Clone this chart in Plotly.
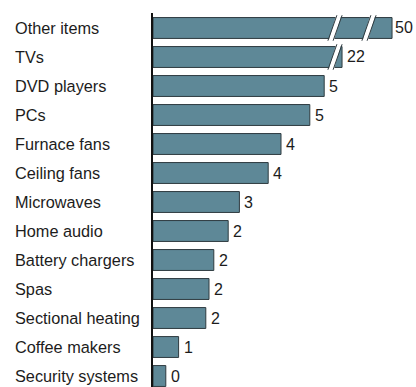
import plotly.graph_objects as go

# Annual standby energy use by product group (rounded labels, exact bar values)
categories = [
    "Other items", "TVs", "DVD players", "PCs", "Furnace fans", "Ceiling fans",
    "Microwaves", "Home audio", "Battery chargers", "Spas", "Sectional heating",
    "Coffee makers", "Security systems",
]
values = [50, 22, 5.35, 4.9, 4.0, 3.6, 2.7, 2.35, 1.9, 1.75, 1.65, 0.8, 0.4]

BAR_COLOR = "#5e8897"
EDGE_COLOR = "#2e3a3f"
TEXT_COLOR = "#1c1c1c"
FONT = "Liberation Sans, Arial, Helvetica, sans-serif"

W, H = 416, 387
L, R, T, B = 153, 0, 13, 0
plot_w = W - L - R

# broken value axis: three segments with the same scale (px per unit)
px_per_unit = 32.0
seg_px = [(0, 182), (182, 216), (216, 263)]          # pixel spans inside the plot area
seg_start = [0.0, 21.78, 49.28]                      # value at left edge of each segment
domains = [(a / plot_w, b / plot_w) for a, b in seg_px]
ranges = [(s, s + (b - a) / px_per_unit) for s, (a, b) in zip(seg_start, seg_px)]
axis_ids = ["x", "x2", "x3"]

fig = go.Figure()

for ax, (lo, hi) in zip(axis_ids, ranges):
    fig.add_trace(go.Bar(
        y=categories, x=values, orientation="h",
        xaxis=ax, yaxis="y",
        marker=dict(color=BAR_COLOR, line=dict(color=EDGE_COLOR, width=1)),
        hoverinfo="skip", showlegend=False,
    ))
    # value label beside the bar end, on the segment where that end is shown
    for c, v in zip(categories, values):
        if lo <= v <= hi:
            fig.add_annotation(
                x=v, xref=ax, xanchor="left", xshift=3 if v < 40 else 1,
                y=c, yref="y", yanchor="middle",
                text=f"{v:.0f}", showarrow=False,
                font=dict(size=16, color=TEXT_COLOR, family=FONT),
            )

# category names, left aligned
for c in categories:
    fig.add_annotation(
        x=(13 - L) / plot_w, xref="paper", xanchor="left",
        y=c, yref="y", yanchor="middle",
        text=c, showarrow=False,
        font=dict(size=16.3, color=TEXT_COLOR, family=FONT),
    )

# break marks "//" on the bars that run past a segment boundary
shapes = []
slant = 4.5 / plot_w
for yi, v in enumerate(values):
    for k in range(1, len(ranges)):
        if v > ranges[k][0]:
            xb = domains[k][0]
            y0, y1 = yi - 0.52, yi + 0.52
            shapes.append(dict(type="line", xref="paper", yref="y",
                               x0=xb + slant, y0=y0, x1=xb - slant, y1=y1,
                               line=dict(color="white", width=5), layer="above"))
            for off in (-2.6, 2.6):
                o = off / plot_w
                shapes.append(dict(type="line", xref="paper", yref="y",
                                   x0=xb + slant + o, y0=y0 + 0.08, x1=xb - slant + o, y1=y1 - 0.08,
                                   line=dict(color=EDGE_COLOR, width=1), layer="above"))

layout_axes = {}
for ax, dom, rng in zip(axis_ids, domains, ranges):
    key = "xaxis" if ax == "x" else "xaxis" + ax[1:]
    layout_axes[key] = dict(domain=list(dom), range=list(rng), visible=False,
                            anchor="y", fixedrange=True)

fig.update_layout(
    width=W, height=H,
    margin=dict(l=L, r=R, t=T, b=B, pad=0),
    paper_bgcolor="white", plot_bgcolor="white",
    bargap=0.28,
    shapes=shapes,
    yaxis=dict(
        type="category", categoryorder="array", categoryarray=categories,
        range=[12.379, -0.517], showticklabels=False, ticks="",
        showgrid=False, zeroline=False,
        showline=True, linecolor="#111111", linewidth=2, anchor="x",
        fixedrange=True,
    ),
    **layout_axes,
)

fig.write_html("out.html")
